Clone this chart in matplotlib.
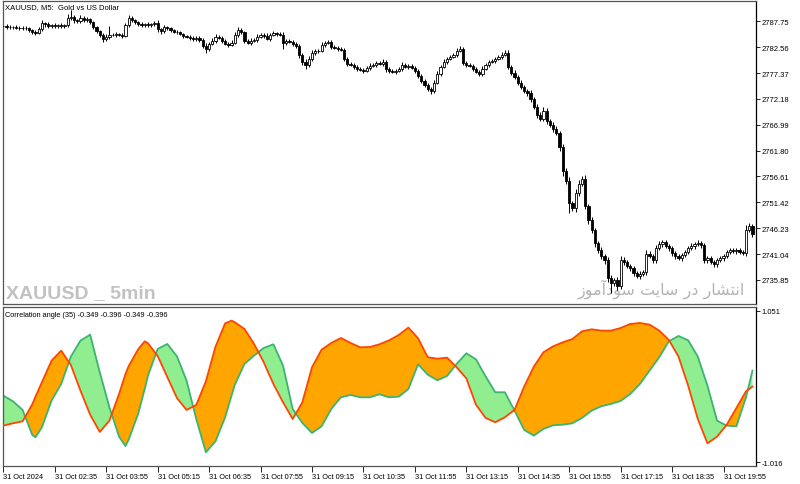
import matplotlib
matplotlib.use("Agg")
import matplotlib.pyplot as plt
import numpy as np

# ---------------- data ----------------
first_open = 2786.90
closes = [
    2786.80, 2786.60, 2786.70, 2786.60, 2786.50, 2786.40, 2786.50, 2786.40, 2786.00, 2785.60,
    2785.40, 2786.20, 2787.40, 2787.20, 2786.80, 2787.00, 2786.80, 2787.00, 2786.80, 2787.00,
    2788.40, 2788.60, 2788.00, 2787.80, 2788.40, 2788.00, 2788.20, 2787.60, 2786.60, 2785.80,
    2785.00, 2784.20, 2784.60, 2785.00, 2785.00, 2785.20, 2785.00, 2784.80, 2787.00, 2788.40,
    2788.00, 2787.60, 2787.20, 2787.00, 2787.20, 2787.00, 2787.20, 2787.40, 2786.20, 2785.80,
    2786.60, 2786.40, 2786.00, 2785.60, 2785.60, 2785.20, 2784.80, 2784.60, 2784.40, 2784.20,
    2784.40, 2784.00,
    2782.80, 2782.20, 2783.20, 2783.80, 2784.60, 2784.40, 2783.80, 2783.20, 2783.00, 2783.40,
    2785.00, 2786.00, 2785.60, 2783.80, 2783.40, 2783.80, 2784.00, 2784.60, 2785.00, 2784.80,
    2784.20, 2785.00, 2785.40, 2785.20, 2785.00, 2783.40, 2783.80, 2783.60, 2783.20, 2782.80,
    2781.00, 2779.60, 2779.00, 2780.20, 2781.40, 2781.80, 2781.80, 2783.00, 2783.40, 2783.60,
    2782.60, 2782.40, 2782.20, 2782.00, 2780.20, 2779.20, 2779.00, 2778.60, 2778.20, 2778.00,
    2777.80, 2778.40, 2778.80, 2779.00, 2779.40, 2779.20, 2779.60, 2778.20, 2777.80, 2777.60,
    2777.80, 2778.20,
    2779.00, 2778.60, 2778.80, 2778.40, 2777.80, 2776.80, 2775.80, 2775.00, 2774.20, 2773.80,
    2775.40, 2777.20, 2778.60, 2779.60, 2780.20, 2780.60, 2781.00, 2781.80, 2782.20, 2779.40,
    2779.00, 2778.80, 2778.20, 2777.60, 2777.20, 2778.20, 2779.00, 2779.60, 2779.80, 2780.20,
    2780.60, 2781.00, 2781.40, 2778.60, 2777.40, 2776.60, 2775.40, 2774.60, 2773.80, 2773.40,
    2772.20, 2770.60, 2769.00, 2768.20, 2769.80, 2767.80, 2767.00, 2766.20, 2765.40, 2762.60,
    2757.80, 2755.80, 2751.20, 2750.20, 2753.20, 2755.20, 2756.20, 2750.60, 2747.80, 2745.80,
    2743.20, 2741.80, 2740.60, 2739.80, 2736.20, 2735.20, 2735.80, 2734.60, 2739.80, 2739.40,
    2738.60, 2738.20, 2737.20, 2736.60, 2737.00, 2737.40, 2741.00, 2740.60, 2739.80, 2742.20,
    2743.00, 2743.40, 2742.60, 2742.20, 2741.20, 2740.60, 2740.20, 2740.80, 2741.40, 2742.20,
    2742.60, 2743.00, 2743.20, 2742.80, 2739.80, 2740.20, 2739.40, 2739.00, 2739.80, 2740.20,
    2740.60, 2741.40, 2741.80, 2741.60, 2741.80, 2741.40, 2741.20, 2745.80, 2746.60, 2745.00,
]
upper_wick = [
    0.3, 0.4, 0.3, 0.2, 0.4, 0.3, 0.3, 0.4, 0.3, 0.2,
    0.5, 0.4, 0.6, 0.3, 0.4, 0.3, 0.5, 0.3, 0.4, 0.3,
    0.8, 1.4, 0.4, 0.3, 0.6, 0.4, 0.5, 0.3, 0.3, 0.2,
    0.3, 0.4, 0.5, 1.9, 0.3, 0.4, 0.3, 0.4, 0.5, 0.6,
    0.4, 0.3, 0.3, 0.4, 0.3, 0.5, 0.3, 0.4, 0.6, 0.3,
    0.4, 0.3, 0.3, 0.2, 0.4, 0.3, 0.3, 0.2, 0.3, 0.4,
    0.3, 0.4, 0.3, 0.5, 0.4, 0.5, 0.6, 0.4, 0.3, 0.3,
    0.4, 0.5, 0.6, 0.7, 0.4, 0.3, 0.4, 0.5, 0.3, 0.5,
    0.4, 0.3, 0.5, 0.4, 0.4, 0.3, 0.4, 0.6, 0.4, 0.3,
    0.3, 0.4, 0.3, 0.4, 0.5, 0.6, 0.5, 0.4, 0.3, 0.6,
    0.4, 0.3, 0.3, 0.4, 0.3, 0.4, 0.3, 0.4, 0.3, 0.3,
    0.4, 0.3, 0.3, 0.4, 0.5, 0.3, 0.4, 0.3, 0.5, 0.3,
    0.3, 0.4, 0.3, 0.4, 0.5, 0.3, 0.4, 0.3, 0.3, 0.4,
    0.3, 0.4, 0.3, 0.3, 0.6, 0.5, 0.4, 0.5, 0.4, 0.3,
    0.4, 0.5, 0.5, 0.4, 0.3, 0.4, 0.3, 0.4, 0.3, 0.5,
    0.4, 0.3, 0.4, 0.3, 0.4, 0.5, 0.6, 0.5, 0.4, 0.6,
    0.4, 0.5, 0.4, 0.3, 0.5, 0.4, 0.6, 0.5, 0.8, 0.5,
    0.4, 0.6, 0.5, 0.4, 0.5, 0.6, 0.7, 0.5, 1.0, 0.8,
    0.6, 0.7, 0.5, 0.6, 0.5, 0.4, 0.6, 0.5, 0.6, 0.7,
    0.5, 0.6, 0.8, 0.7, 0.4, 0.5, 0.4, 0.5, 0.6, 0.5,
    0.8, 0.6, 0.5, 0.7, 0.6, 0.5, 0.4, 0.5, 0.4, 0.5,
    0.4, 0.5, 0.4, 0.5, 0.6, 0.5, 0.7, 0.5, 0.5, 0.4,
    0.5, 0.4, 0.5, 0.4, 0.5, 0.4, 0.5, 0.4, 0.5, 0.4,
    0.5, 1.0, 0.6, 0.5,
]
lower_wick = [
    0.3, 0.3, 0.4, 0.3, 0.3, 0.4, 0.3, 0.3, 0.4, 0.5,
    0.4, 0.3, 0.4, 0.5, 0.3, 0.4, 0.3, 0.4, 0.3, 0.3,
    0.3, 0.4, 0.5, 0.3, 0.4, 0.3, 0.4, 0.3, 0.4, 0.5,
    0.5, 0.6, 0.5, 0.4, 0.3, 0.4, 0.3, 0.4, 0.3, 0.4,
    0.3, 0.4, 0.3, 0.4, 0.3, 0.3, 0.4, 0.3, 0.5, 0.6,
    0.4, 0.3, 0.4, 0.3, 0.4, 0.3, 0.4, 0.3, 0.4, 0.5,
    0.4, 0.5, 0.4, 0.8, 0.4, 0.3, 0.4, 0.3, 0.4, 0.3,
    0.4, 0.3, 0.3, 0.4, 0.5, 0.4, 0.3, 0.4, 0.3, 0.4,
    0.3, 0.4, 0.3, 0.4, 0.3, 0.4, 0.3, 1.2, 0.4, 0.3,
    0.4, 0.5, 0.6, 0.7, 0.8, 0.5, 0.4, 0.5, 0.4, 0.3,
    0.4, 0.3, 0.4, 0.3, 0.4, 0.3, 0.5, 0.4, 0.3, 0.4,
    0.4, 0.3, 0.5, 0.3, 0.4, 0.3, 0.4, 0.3, 0.4, 0.6,
    0.4, 0.3, 0.4, 0.3, 0.4, 0.3, 0.4, 0.3, 0.4, 0.5,
    0.4, 0.5, 0.4, 0.6, 0.4, 0.3, 0.4, 0.3, 0.4, 0.3,
    0.3, 0.4, 0.3, 0.5, 0.4, 0.3, 0.4, 0.3, 0.5, 0.4,
    0.3, 0.4, 0.3, 0.4, 0.3, 0.4, 0.3, 0.4, 0.5, 0.4,
    0.5, 0.4, 0.5, 0.6, 0.7, 0.5, 0.6, 0.5, 0.4, 0.6,
    0.5, 0.6, 0.5, 0.8, 1.0, 0.7, 2.0, 0.6, 0.8, 0.6,
    0.5, 0.6, 0.7, 0.6, 0.8, 0.5, 0.6, 0.7, 0.8, 2.0,
    0.6, 0.7, 0.6, 0.5, 0.4, 0.6, 0.5, 0.4, 0.5, 0.4,
    0.5, 0.4, 0.6, 0.5, 0.4, 0.5, 0.4, 0.5, 0.6, 0.5,
    0.4, 0.5, 0.4, 0.3, 0.4, 0.5, 0.4, 0.5, 0.6, 0.5,
    0.4, 0.5, 0.6, 0.4, 0.5, 0.4, 0.3, 0.4, 0.5, 0.4,
    0.4, 0.5, 0.4, 0.6,
]

ind_bars = [0, 3, 6, 9, 10, 12, 15, 18, 21, 24, 27, 30, 33, 36, 38, 39, 42, 44, 45, 48,
            51, 54, 57, 60, 63, 66, 69, 71, 72, 75, 78, 81, 84, 87, 90, 93, 96, 99, 102, 105,
            108, 111, 114, 117, 120, 123, 126, 129, 132, 135, 138, 141, 144, 147, 150, 153, 156, 159, 162, 165,
            168, 171, 174, 177, 180, 183, 186, 189, 192, 195, 198, 201, 204, 207, 210, 213, 216, 219, 222, 225,
            228, 231, 233]
red_vals = [-0.516, -0.484, -0.457, -0.225, -0.121, 0.075, 0.370, 0.506, 0.311, -0.039,
            -0.366, -0.602, -0.448, -0.084, 0.188, 0.297, 0.529, 0.634, 0.606, 0.434,
            0.147, -0.139, -0.302, -0.234, 0.088, 0.561, 0.879, 0.915, 0.892, 0.802,
            0.597, 0.347, 0.052, -0.198, -0.425, -0.198, 0.279, 0.520, 0.611, 0.679,
            0.611, 0.552, 0.556, 0.593, 0.647, 0.720, 0.820, 0.674, 0.416, 0.397,
            0.411, 0.279, 0.129, -0.230, -0.411, -0.470, -0.402, -0.302, 0.016, 0.288,
            0.484, 0.565, 0.620, 0.665, 0.770, 0.797, 0.779, 0.779, 0.815, 0.870,
            0.883, 0.861, 0.779, 0.652, 0.425, 0.029, -0.425, -0.757, -0.666, -0.503,
            -0.275, -0.048, 0.016]
green_vals = [-0.107, -0.184, -0.302, -0.643, -0.675, -0.539, -0.175, 0.052, 0.425, 0.643,
              0.724, 0.211, -0.266, -0.666, -0.795, -0.705, -0.348, -0.012, 0.166, 0.529,
              0.597, 0.429, 0.097, -0.425, -0.879, -0.730, -0.402, -0.103, 0.040, 0.325,
              0.438, 0.543, 0.593, 0.302, -0.289, -0.479, -0.616, -0.525, -0.289, -0.130,
              -0.098, -0.130, -0.130, -0.089, -0.130, -0.121, -0.016, 0.320, 0.179, 0.102,
              0.161, 0.325, 0.470, 0.388, 0.156, -0.061, -0.061, -0.311, -0.575, -0.652,
              -0.561, -0.511, -0.503, -0.484, -0.411, -0.311, -0.252, -0.220, -0.180, -0.084,
              0.052, 0.234, 0.416, 0.634, 0.706, 0.647, 0.425, 0.029, -0.448, -0.516,
              -0.525, -0.130, 0.234]

price_ticks = [2787.75, 2782.56, 2777.37, 2772.18, 2766.99, 2761.80,
               2756.61, 2751.42, 2746.23, 2741.04, 2735.85]
ind_ticks = [1.051, -1.016]
time_labels = ["31 Oct 2024", "31 Oct 02:35", "31 Oct 03:55", "31 Oct 05:15",
               "31 Oct 06:35", "31 Oct 07:55", "31 Oct 09:15", "31 Oct 10:35",
               "31 Oct 11:55", "31 Oct 13:15", "31 Oct 14:35", "31 Oct 15:55",
               "31 Oct 17:15", "31 Oct 18:35", "31 Oct 19:55"]

title_text = "XAUUSD, M5:  Gold vs US Dollar"
ind_title = "Correlation angle (35) -0.349 -0.396 -0.349 -0.396"
watermark_en = "XAUUSD _ 5min"
# "انتشار در سایت سودآموز" in shaped (presentation) forms, visual order
watermark_fa = ("\uFEAF\uFEEE\uFEE3\uFE81\uFEA9\uFEEE\uFEB3 "
                "\uFE96\uFBFE\uFE8E\uFEB3 "
                "\uFEAD\uFEA9 "
                "\uFEAD\uFE8E\uFEB8\uFE98\uFEE7\uFE8D")

# ---------------- figure ----------------
plt.rcParams['font.family'] = ['Liberation Sans', 'DejaVu Sans']
fig = plt.figure(figsize=(8.0, 4.85), dpi=100)
ax1 = fig.add_axes([3/800, 1-305/485, 753/800, 303/485])
ax2 = fig.add_axes([3/800, 1-467/485, 753/800, 159/485])

n = len(closes)
x = np.arange(n)
c = np.array(closes)
o = np.concatenate([[first_open], c[:-1]])
hi = np.maximum(o, c) + np.array(upper_wick)
lo = np.minimum(o, c) - np.array(lower_wick)
bull = c > o
bear = ~bull

ax1.vlines(x, lo, hi, color='black', lw=0.7, zorder=2)
ax1.bar(x[bull], (c - o)[bull], bottom=o[bull], width=0.7, facecolor='white',
        edgecolor='black', linewidth=0.6, zorder=3)
ax1.bar(x[bear], (c - o)[bear], bottom=o[bear], width=0.7, facecolor='black',
        edgecolor='black', linewidth=0.6, zorder=3)

xlim = (-0.1, 234.1)
ax1.set_xlim(*xlim)
ax1.set_ylim(2731.03, 2791.82)
ax1.set_xticks([])
ax1.yaxis.tick_right()
ax1.set_yticks(price_ticks)
ax1.set_yticklabels([f"{v:.2f}" for v in price_ticks])
ax1.tick_params(axis='y', direction='out', length=3, pad=1, labelsize=5.5,
                colors='black', width=0.6)

ax1.text(0.003, 0.983, title_text, transform=ax1.transAxes, fontsize=5.5,
         va='center', ha='left', color='black')
ax1.text(0.004, 0.024, watermark_en, transform=ax1.transAxes, fontsize=14,
         family=['Liberation Sans', 'DejaVu Sans'], fontweight='bold',
         color='#c2c2c2', va='baseline', ha='left', zorder=1)
ax1.text(0.985, 0.035, watermark_fa, transform=ax1.transAxes, fontsize=11.5,
         family=['DejaVu Sans'], color='#b4b4b4', va='baseline', ha='right', zorder=1)

# indicator
xb = np.array(ind_bars)
r = np.array(red_vals)
g = np.array(green_vals)
ax2.fill_between(xb, r, g, where=r >= g, interpolate=True, color='#FFA500', lw=0, zorder=1)
ax2.fill_between(xb, r, g, where=r < g, interpolate=True, color='#90EE90', lw=0, zorder=1)
ax2.plot(xb, g, color='#3CB371', lw=1.3, zorder=2)
ax2.plot(xb, r, color='#FF4500', lw=1.3, zorder=3)
ax2.set_xlim(*xlim)
ax2.set_ylim(-1.066, 1.101)
ax2.yaxis.tick_right()
ax2.set_yticks(ind_ticks)
ax2.set_yticklabels([f"{v:.3f}" for v in ind_ticks])
ax2.tick_params(axis='y', direction='out', length=3, pad=1, labelsize=5.5, width=0.6)
ax2.set_xticks(np.arange(0, n, 16))
ax2.set_xticklabels(time_labels, ha='left')
ax2.tick_params(axis='x', direction='out', length=4, pad=1, labelsize=5.3, width=0.6)
ax2.text(0.003, 0.95, ind_title, transform=ax2.transAxes, fontsize=5.3,
         va='center', ha='left', color='black')

for ax in (ax1, ax2):
    for s in ax.spines.values():
        s.set_color('#555555')
        s.set_linewidth(0.9)
    ax.spines['right'].set_color('black')

fig.savefig("out.png", dpi=100, facecolor='white')
